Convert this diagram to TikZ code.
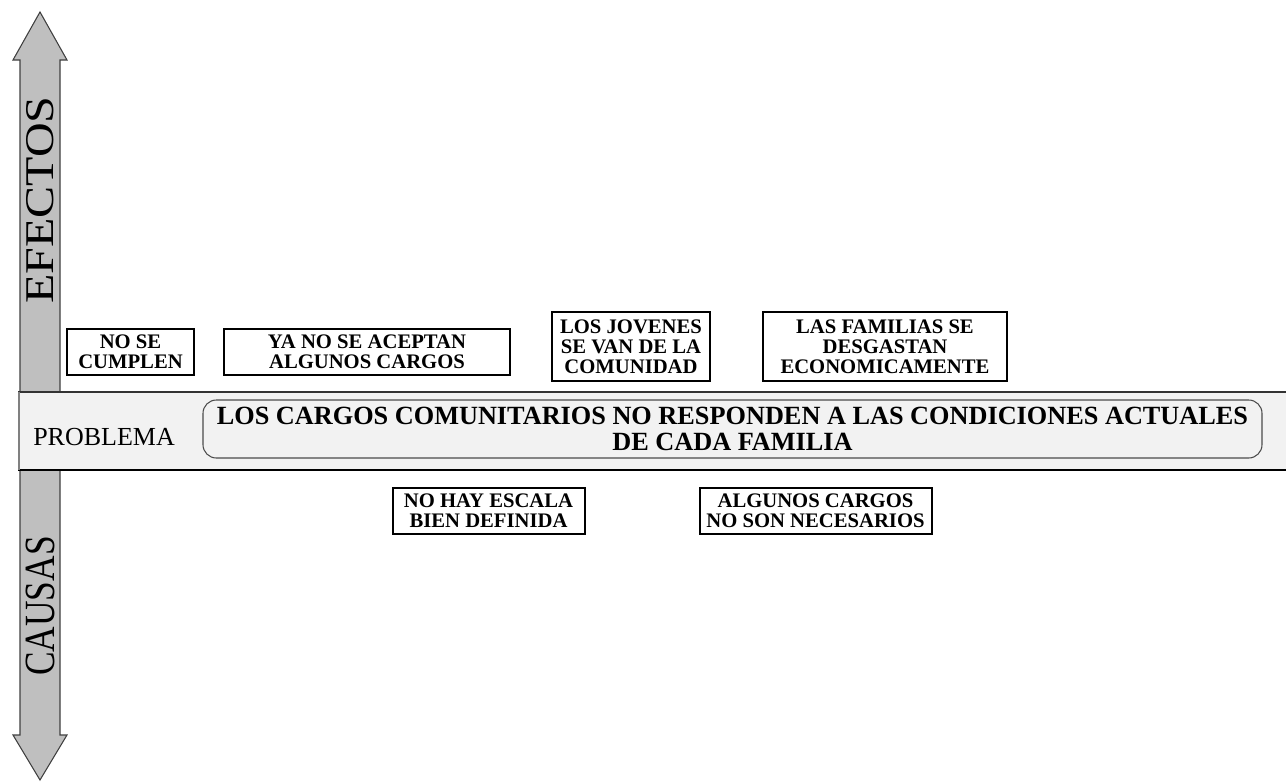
\documentclass[tikz,border=0pt]{standalone}
\usepackage{fontspec}
\setmainfont{Liberation Serif}
\usetikzlibrary{positioning}

\begin{document}
\begin{tikzpicture}[x=0.75pt,y=-0.75pt,
    axisarrow/.style={fill=black!25, draw=black!75, line width=0.8pt},
    causebox/.style={draw, line width=1.5pt, fill=white, inner sep=0pt,
    align=center, font=\fontsize{15.5}{15}\selectfont\bfseries},
    axislabel/.style={rotate=90, inner sep=0pt, font=\fontsize{34}{34}\selectfont}
]
  \useasboundingbox (0,0) rectangle (1286,782);

  % arrows
  \draw[axisarrow] (20,392) -- (20,60) -- (13,60) -- (40,12) -- (67,60) -- (60,60) -- (60,392);
  \draw[axisarrow] (20,470) -- (20,735) -- (13,735) -- (40,780) -- (67,735) -- (60,735) -- (60,470);
  \node[axislabel] (efectos) at (40,200) {\scalebox{1.06}[0.9]{EFECTOS}};
  \node[axislabel] (causas) at (40,606) {\scalebox{0.78}[0.95]{CAUSAS}};

  % problem band
  \fill[black!5] (18,392) rectangle (1286,470);
  \draw[black!80, line width=0.8pt] (18,392) -- (1286,392);
  \draw[black, line width=2.2pt] (18,470) -- (1286,470);
  \draw[black!50, line width=2pt] (19,392) -- (19,470);
  \node[font=\fontsize{19.5}{19.5}\selectfont, anchor=west, inner sep=0pt] (problema) at (33,437) {PROBLEMA};
  \node[draw=black!70, line width=0.8pt, rounded corners=10pt, fill=black!5,
    minimum width=1059*0.75pt, minimum height=58*0.75pt, inner sep=0pt, align=center,
    font=\fontsize{19.7}{20}\selectfont\bfseries] (problem) at (732.5,429)
    {LOS CARGOS COMUNITARIOS NO RESPONDEN A LAS CONDICIONES ACTUALES\\DE CADA FAMILIA};

  % effects
  \node[causebox, minimum width=127*0.75pt, minimum height=46*0.75pt] (cumplen) at (130.5,352) {NO SE\\CUMPLEN};
  \node[causebox, minimum width=286*0.75pt, minimum height=46*0.75pt] (aceptan) at (367,352) {YA NO SE ACEPTAN\\ALGUNOS CARGOS};
  \node[causebox, minimum width=158*0.75pt, minimum height=69*0.75pt] (jovenes) at (631,346.5) {LOS JOVENES\\SE VAN DE LA\\COMUNIDAD};
  \node[causebox, minimum width=244*0.75pt, minimum height=69*0.75pt] (familias) at (885,346.5) {LAS FAMILIAS SE\\DESGASTAN\\ECONOMICAMENTE};

  % causes
  \node[causebox, minimum width=192*0.75pt, minimum height=46*0.75pt] (escala) at (488.5,511) {NO HAY ESCALA\\BIEN DEFINIDA};
  \node[causebox, minimum width=232*0.75pt, minimum height=46*0.75pt] (necesarios) at (815.5,511) {ALGUNOS CARGOS\\NO SON NECESARIOS};
\end{tikzpicture}
\end{document}
